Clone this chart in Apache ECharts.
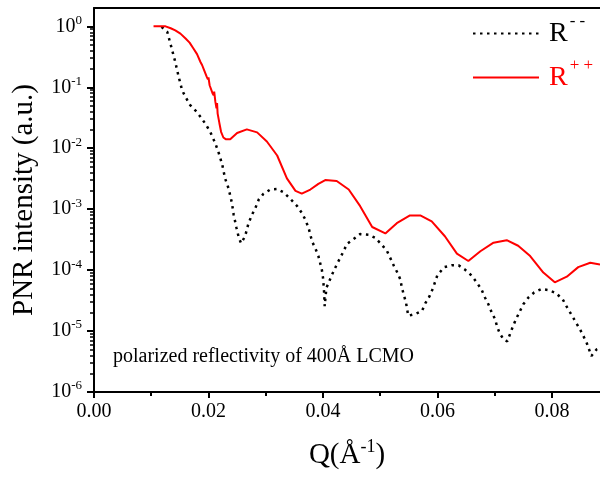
<!DOCTYPE html>
<html><head><meta charset="utf-8">
<script src="https://cdn.jsdelivr.net/npm/echarts@6/dist/echarts.min.js"></script>
<style>html,body{margin:0;padding:0;background:#fff}#c{width:600px;height:477px}</style>
</head><body><div id="c"></div>
<script>
// ---- data ----
const qPlus = [0.0104,0.0125,0.0134,0.0142,0.0151,0.0160,0.0167,0.0174,0.0180,0.0186,0.0189,0.0190,0.0192,0.0194,0.0195,0.0197,0.0199,0.0200,0.0202,0.0204,0.0205,0.0207,0.0209,0.0210,0.0212,0.0213,0.0214,0.0215,0.0216,0.0219,0.0222,0.0226,0.0230,0.0238,0.0250,0.0267,0.0285,0.0302,0.0320,0.0337,0.0352,0.0363,0.0378,0.0392,0.0404,0.0424,0.0445,0.0465,0.0486,0.0509,0.0529,0.0552,0.0570,0.0590,0.0613,0.0634,0.0654,0.0675,0.0698,0.0721,0.0741,0.0762,0.0785,0.0805,0.0826,0.0846,0.0867,0.0884];
const rPlus = [1.0,1.0,0.93,0.86,0.76,0.63,0.54,0.43,0.35,0.26,0.23,0.24,0.195,0.185,0.195,0.148,0.135,0.146,0.108,0.103,0.115,0.080,0.074,0.085,0.058,0.060,0.045,0.055,0.037,0.026,0.0186,0.0150,0.0141,0.0141,0.0178,0.0204,0.0182,0.0129,0.0076,0.0032,0.0020,0.0018,0.0021,0.0026,0.0030,0.0029,0.0021,0.00112,0.00051,0.00040,0.00059,0.00079,0.00079,0.00063,0.00036,0.000186,0.000141,0.000204,0.000282,0.00031,0.000251,0.00017,0.000091,0.000063,0.000078,0.000112,0.000132,0.000123];
const qMinus = [0.0118,0.0128,0.0135,0.0142,0.0148,0.0154,0.0160,0.0168,0.0179,0.0188,0.0196,0.0203,0.0212,0.0218,0.0224,0.0229,0.0235,0.0241,0.0244,0.0249,0.0253,0.0257,0.0264,0.0270,0.0276,0.0282,0.0288,0.0296,0.0308,0.0320,0.0331,0.0343,0.0355,0.0363,0.0369,0.0375,0.0381,0.0387,0.0392,0.0398,0.0400,0.0401,0.0402,0.0403,0.0406,0.0416,0.0424,0.0430,0.0436,0.0442,0.0453,0.0465,0.0480,0.0491,0.0503,0.0512,0.0519,0.0524,0.0530,0.0535,0.0538,0.0541,0.0545,0.0549,0.0561,0.0573,0.0579,0.0586,0.0592,0.0600,0.0612,0.0625,0.0637,0.0648,0.0660,0.0669,0.0677,0.0683,0.0689,0.0695,0.0701,0.0704,0.0709,0.0716,0.0722,0.0732,0.0737,0.0750,0.0759,0.0769,0.0782,0.0794,0.0807,0.0819,0.0827,0.0835,0.0842,0.0849,0.0855,0.0861,0.0869,0.0878,0.0886];
const rMinus = [0.98,0.81,0.46,0.26,0.148,0.089,0.069,0.051,0.040,0.031,0.024,0.0186,0.012,0.0083,0.0054,0.0032,0.0022,0.00126,0.00081,0.00049,0.00034,0.000275,0.00036,0.00059,0.00081,0.00105,0.00145,0.00178,0.0021,0.00214,0.0019,0.00148,0.00112,0.00087,0.00068,0.00049,0.000295,0.000224,0.00017,0.000102,0.000076,0.000059,0.000043,0.0000257,0.000051,0.000085,0.000123,0.000158,0.000204,0.00027,0.00032,0.00039,0.00038,0.00034,0.00026,0.000204,0.000148,0.000117,0.000091,0.000071,0.000051,0.00004,0.0000295,0.0000178,0.000019,0.0000214,0.0000288,0.000037,0.00005,0.000083,0.000112,0.00012,0.00012,0.000102,0.000081,0.000062,0.000048,0.0000355,0.0000275,0.00002,0.0000155,0.000012,0.0000091,0.0000072,0.0000068,0.000012,0.0000155,0.0000275,0.0000355,0.000043,0.000049,0.000047,0.000042,0.000033,0.000024,0.000018,0.0000138,0.0000107,0.0000083,0.0000063,0.0000039,0.000005,0.0000054];
const seriesNames = ['R--', 'R++'];
const xTicks = [0, 0.02, 0.04, 0.06, 0.08];
const xMinorTicks = [0.01, 0.03, 0.05, 0.07];
const yDecades = [-6, -5, -4, -3, -2, -1, 0];
const annotationText = 'polarized reflectivity of 400Å LCMO';

// ---- chart ----
const FONT = '"Liberation Serif", "Times New Roman", serif';
const xMin = 0, xMax = 0.0884;
const yMin = 1e-6, yMax = 2;
const yMinorLog = [];
yDecades.slice(0, -1).forEach(d => { for (let k = 2; k <= 9; k++) yMinorLog.push(d + Math.log10(k)); });

const pairs = (qs, rs) => qs.map((q, i) => [q, rs[i]]);
const chart = echarts.init(document.getElementById('c'), null, {renderer: 'canvas'});
const black = '#000';
chart.setOption({
  animation: false,
  backgroundColor: '#fff',
  textStyle: {fontFamily: FONT},
  grid: {left: 94, right: 0, top: 8, bottom: 84},
  legend: {
    orient: 'vertical', left: 472, top: 13, padding: 0,
    itemWidth: 66, itemHeight: 14, itemGap: 3,
    selectedMode: false,
    itemStyle: {opacity: 0},
    data: [
      {name: seriesNames[0], textStyle: {color: '#000'}},
      {name: seriesNames[1], textStyle: {color: '#ff0000'}}
    ],
    formatter: n => n === seriesNames[0] ? '{r|R}{s|- -}' : '{r|R}{s|+ +}',
    textStyle: {
      fontFamily: FONT,
      rich: {
        r: {fontSize: 28, lineHeight: 32, fontFamily: FONT, padding: [0, 0, 0, 5]},
        s: {fontSize: 17, lineHeight: 17, fontFamily: FONT, padding: [0, 0, 24, 2]}
      }
    }
  },
  xAxis: [
    {
      type: 'value', min: xMin, max: xMax, interval: 0.02, position: 'bottom',
      axisLine: {onZero: false, lineStyle: {color: black, width: 2}},
      axisTick: {inside: false, length: 6, customValues: xTicks, lineStyle: {color: black, width: 2}},
      axisLabel: {customValues: xTicks, formatter: v => v.toFixed(2), margin: 10, fontSize: 20, color: black, fontFamily: FONT},
      splitLine: {show: false},
      name: '{n|Q(Å}{s|-1}{n|)}', nameLocation: 'middle', nameGap: 46,
      nameTextStyle: {
        rich: {
          n: {fontSize: 29, fontFamily: FONT, color: black, lineHeight: 34},
          s: {fontSize: 18, fontFamily: FONT, color: black, lineHeight: 18, padding: [0, 0, 16, 0]}
        }
      }
    },
    {
      type: 'value', min: xMin, max: xMax, position: 'bottom',
      axisLine: {show: false, onZero: false},
      axisTick: {inside: false, length: 4, customValues: xMinorTicks, lineStyle: {color: black, width: 2}},
      axisLabel: {show: false}, splitLine: {show: false}
    },
    {
      type: 'value', min: xMin, max: xMax, position: 'top',
      axisLine: {onZero: false, lineStyle: {color: black, width: 2}},
      axisTick: {show: false}, axisLabel: {show: false}, splitLine: {show: false}
    }
  ],
  yAxis: [
    {
      type: 'log', min: yMin, max: yMax, logBase: 10, position: 'left', show: false,
      splitLine: {show: false}
    },
    {
      type: 'value', min: Math.log10(yMin), max: Math.log10(yMax), position: 'left',
      axisLine: {onZero: false, lineStyle: {color: black, width: 2}},
      axisTick: {inside: false, length: 7, customValues: yDecades, lineStyle: {color: black, width: 2}},
      axisLabel: {
        customValues: yDecades, margin: 12,
        formatter: v => '{b|10}{s|' + v + '}',
        rich: {
          b: {fontSize: 20, fontFamily: FONT, color: black, lineHeight: 22},
          s: {fontSize: 13, fontFamily: FONT, color: black, lineHeight: 13, padding: [0, 0, 12, 0]}
        }
      },
      splitLine: {show: false},
      name: 'PNR intensity (a.u.)', nameLocation: 'middle', nameGap: 55, nameRotate: 90,
      nameTextStyle: {fontSize: 29, fontFamily: FONT, color: black}
    },
    {
      type: 'value', min: Math.log10(yMin), max: Math.log10(yMax), position: 'left',
      axisLine: {show: false, onZero: false},
      axisTick: {inside: false, length: 4, customValues: yMinorLog, lineStyle: {color: black, width: 1.5}},
      axisLabel: {show: false}, splitLine: {show: false}
    }
  ],
  series: [
    {
      name: seriesNames[0], type: 'line', xAxisIndex: 0, yAxisIndex: 0,
      data: pairs(qMinus, rMinus), symbol: 'none', smooth: false,
      lineStyle: {color: '#000', width: 2.5, type: [2.5, 4.5], cap: 'butt'},
      itemStyle: {color: '#000'}
    },
    {
      name: seriesNames[1], type: 'line', xAxisIndex: 0, yAxisIndex: 0,
      data: pairs(qPlus, rPlus), symbol: 'none', smooth: false,
      lineStyle: {color: '#ff0000', width: 2},
      itemStyle: {color: '#ff0000'}
    }
  ],
  graphic: [
    {type: 'text', left: 113, top: 347, style: {text: annotationText, font: '20px ' + FONT, fill: '#000'}}
  ]
});
</script>
</body></html>
